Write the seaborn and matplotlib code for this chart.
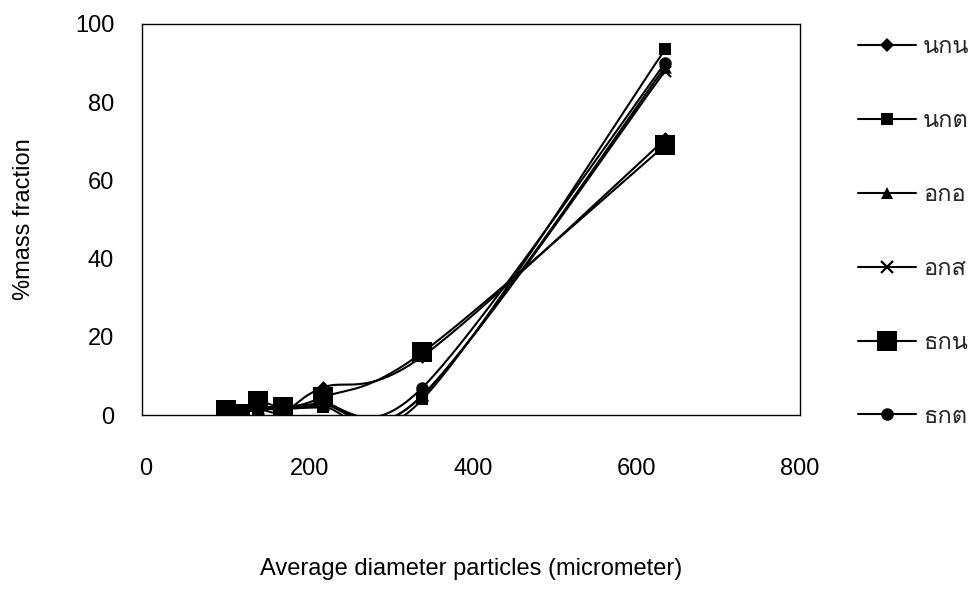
import numpy as np
import pandas as pd
import matplotlib
matplotlib.use("Agg")
import matplotlib.pyplot as plt
from matplotlib import font_manager as fm
from matplotlib.ft2font import FT2Font
from matplotlib.lines import Line2D
import seaborn as sns

# ---- data -------------------------------------------------------------
diameter = [98, 115, 137, 168, 216, 338, 635]

series_names = ["นกน", "นกต", "อกอ", "อกส", "ธกน", "ธกต"]
y_nkn = [0.5, 0.6, 1.5, 0.8, 7.0, 15.0, 70.5]
y_nkt = [0.5, 0.4, 1.5, 2.0, 2.0, 4.0, 93.5]
y_oko = [0.5, 0.5, 2.0, 2.0, 3.0, 5.0, 89.0]
y_oks = [0.5, 0.5, 1.5, 2.0, 2.5, 5.0, 88.0]
y_tkn = [1.2, 0.3, 3.5, 2.0, 4.5, 16.0, 69.0]
y_tkt = [0.5, 0.5, 1.5, 1.5, 2.5, 7.0, 90.0]
series_values = [y_nkn, y_nkt, y_oko, y_oks, y_tkn, y_tkt]

x_ticks = [0, 200, 400, 600, 800]
y_ticks = [0, 20, 40, 60, 80, 100]

# ---- fonts ------------------------------------------------------------
def thai_family():
    for entry in fm.fontManager.ttflist:
        try:
            if 0x0E01 in FT2Font(entry.fname).get_charmap():
                return entry.name
        except Exception:
            continue
    return None

sns.set_theme(style="white")
base_family = "Liberation Sans"
thai = thai_family()
families = [base_family] + ([thai] if thai else []) + ["DejaVu Sans"]
plt.rcParams["font.family"] = families

# ---- smoothing (cubic Bezier through each point, neighbour tangents) ---
def smooth(xs, ys, n=40):
    p = np.column_stack([xs, ys]).astype(float)
    k = len(p)
    out = [p[0]]
    for i in range(k - 1):
        prev = p[i - 1] if i > 0 else p[i]
        nxt = p[i + 2] if i + 2 < k else p[i + 1]
        c1 = p[i] + (p[i + 1] - prev) / 6.0
        c2 = p[i + 1] - (nxt - p[i]) / 6.0
        t = np.linspace(0, 1, n)[1:, None]
        seg = ((1 - t) ** 3) * p[i] + 3 * ((1 - t) ** 2) * t * c1 \
            + 3 * (1 - t) * t ** 2 * c2 + t ** 3 * p[i + 1]
        out.extend(seg)
    out = np.array(out)
    return out[:, 0], out[:, 1]

marker_styles = {
    "นกน": dict(marker="D", ms=7.5),
    "นกต": dict(marker="s", ms=9),
    "อกอ": dict(marker="^", ms=9),
    "อกส": dict(marker="x", ms=8),
    "ธกน": dict(marker="s", ms=14),
    "ธกต": dict(marker="o", ms=9),
}

# ---- figure -----------------------------------------------------------
fig = plt.figure(figsize=(9.74, 5.93), dpi=100)
ax = fig.add_axes([142 / 974, 1 - 415 / 593, (800 - 142) / 974, (415 - 24) / 593])

for name, vals in zip(series_names, series_values):
    sx, sy = smooth(diameter, vals)
    curve = pd.DataFrame({"x": sx, "y": sy})
    sns.lineplot(data=curve, x="x", y="y", sort=False, estimator=None,
                 color="black", lw=1.5, ax=ax)
    st = marker_styles[name]
    pts = pd.DataFrame({"x": diameter, "y": vals})
    sns.scatterplot(data=pts, x="x", y="y", marker=st["marker"],
                    s=st["ms"] ** 2, color="black",
                    edgecolor="black", linewidth=1.6 if st["marker"] == "x" else 0,
                    ax=ax, zorder=3)

ax.set_xlim(-5, 800)
ax.set_ylim(0, 100)
ax.set_xticks(x_ticks)
ax.set_yticks(y_ticks)
ax.tick_params(axis="both", length=0, labelsize=17, colors="black")
ax.tick_params(axis="x", pad=31)
ax.tick_params(axis="y", pad=20)
for s in ax.spines.values():
    s.set_color("black")
    s.set_linewidth(1.0)

ax.set_xlabel("Average diameter particles (micrometer)", fontsize=17, color="black")
ax.set_ylabel("%mass fraction", fontsize=17, color="black")
ax.xaxis.set_label_coords(0.5, -0.395)
ax.xaxis.label.set_verticalalignment("center")
ax.yaxis.set_label_coords(-0.18, 0.5)
ax.yaxis.label.set_verticalalignment("center")

handles = []
for name in series_names:
    st = marker_styles[name]
    handles.append(Line2D([], [], color="black", lw=1.5, marker=st["marker"],
                          markersize=st["ms"], markeredgewidth=1.6 if st["marker"] == "x" else 0,
                          markerfacecolor="black", markeredgecolor="black"))
leg = fig.legend(handles, series_names, loc="upper left",
                 bbox_to_anchor=(858 / 974, 1 - 36 / 593), frameon=False,
                 fontsize=17, handlelength=2.45, handletextpad=0.3,
                 labelspacing=2.2, borderpad=0, borderaxespad=0)

fig.savefig("out.png", dpi=100, facecolor="white")
